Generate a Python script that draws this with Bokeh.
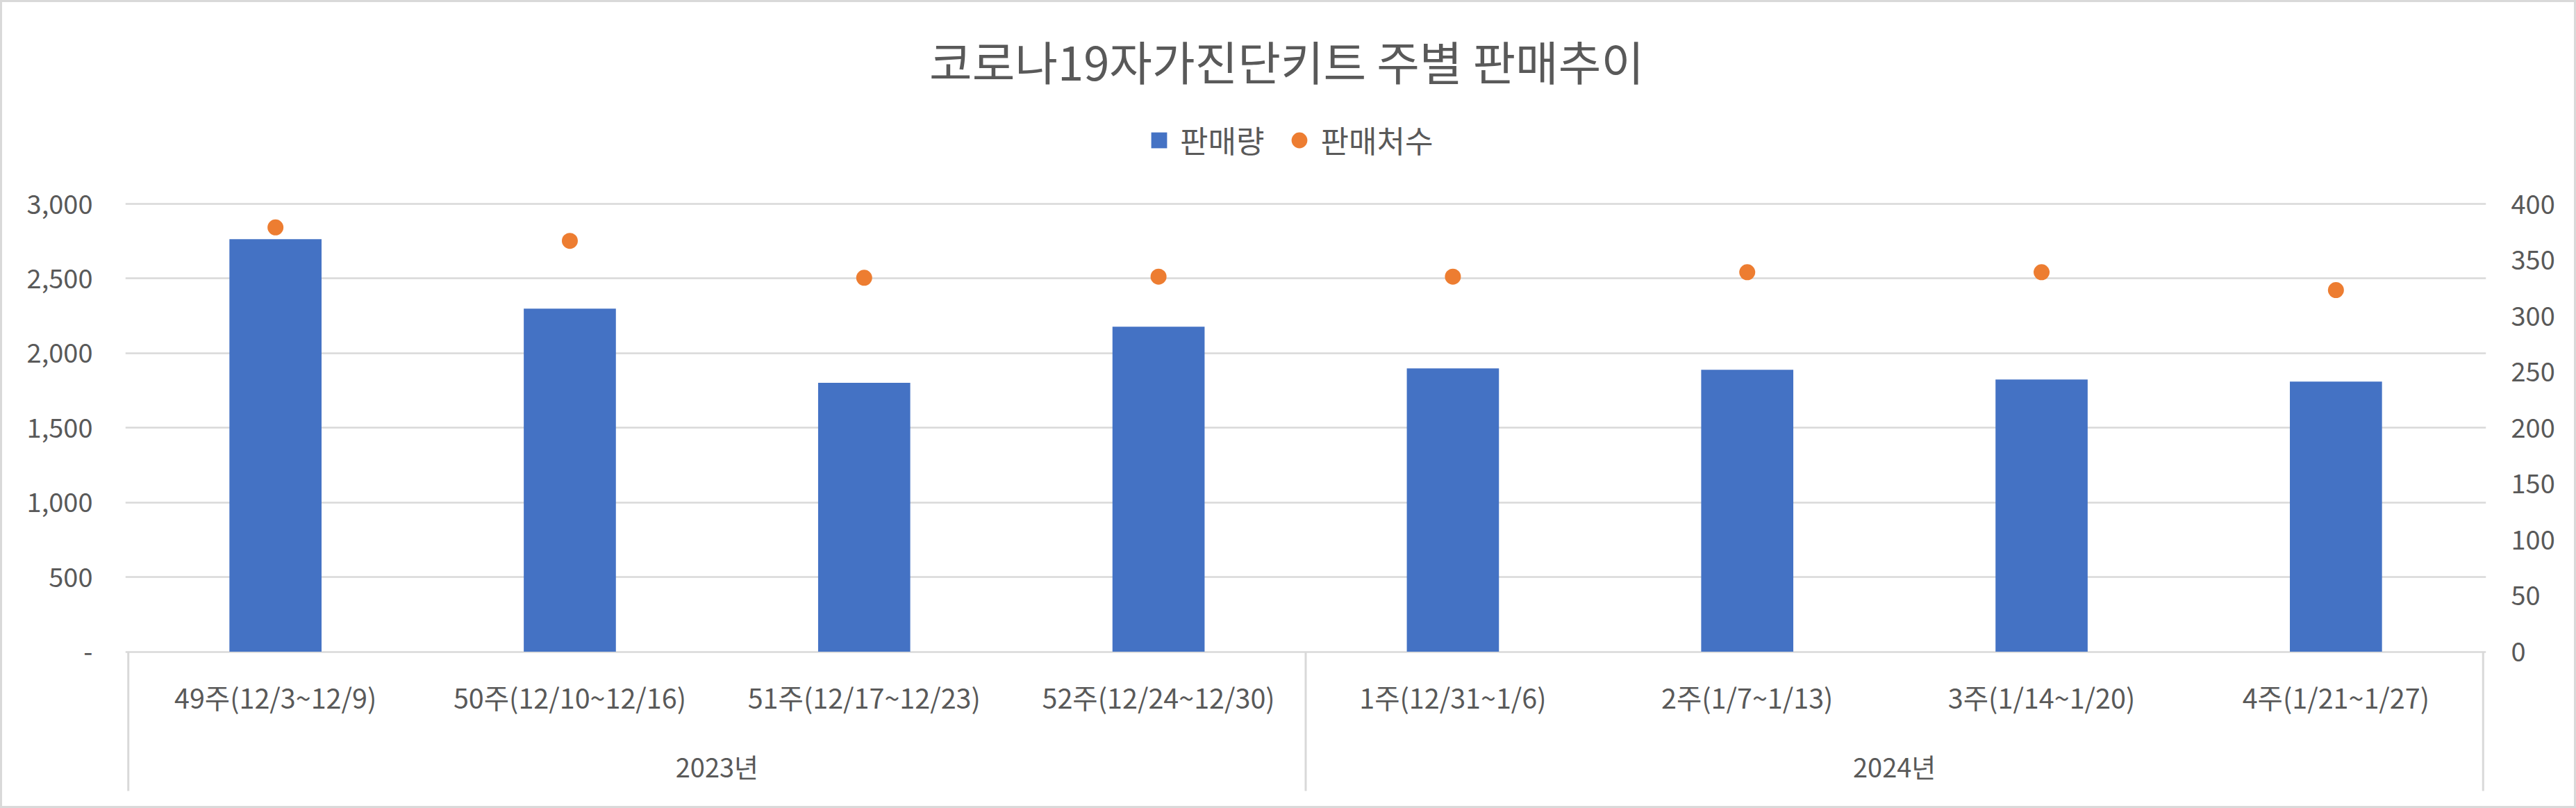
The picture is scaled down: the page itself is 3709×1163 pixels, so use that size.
from bokeh.plotting import figure
from bokeh.models import (FactorRange, Range1d, LinearAxis, FixedTicker, NumeralTickFormatter,
                          Legend, LegendItem, Label, ColumnDataSource, Grid)
from bokeh.core.properties import value
from bokeh.embed import file_html
from bokeh.resources import INLINE

# ---------------- data ----------------
title_text = "코로나19자가진단키트 주별 판매추이"
years = ["2023년", "2023년", "2023년", "2023년", "2024년", "2024년", "2024년", "2024년"]
weeks = ["49주(12/3~12/9)", "50주(12/10~12/16)", "51주(12/17~12/23)", "52주(12/24~12/30)",
         "1주(12/31~1/6)", "2주(1/7~1/13)", "3주(1/14~1/20)", "4주(1/21~1/27)"]
year_groups = ["2023년", "2024년"]
sales = [2764, 2298, 1801, 2177, 1898, 1889, 1824, 1810]      # 판매량 (left axis)
stores = [379, 367, 334, 335, 335, 339, 339, 323]             # 판매처수 (right axis)
series_names = ["판매량", "판매처수"]
left_ticks = [0, 500, 1000, 1500, 2000, 2500, 3000]
right_ticks = [0, 50, 100, 150, 200, 250, 300, 350, 400]

# ---------------- layout constants ----------------
W, H = 3709, 1163
FL, FR = 180, 3579          # frame left/right (px)
Y_TOP_PX, Y0_PX = 293.0, 937.5
LMAX, RMAX = 3000.0, 400.0
K = LMAX / (Y0_PX - Y_TOP_PX)
PAD = 0.01
NCAT = len(weeks)


def ydata(px):
    return (Y0_PX - px) * K


def xdata(px):
    unit = (FR - FL) / (NCAT + PAD)
    return (px - FL) / unit - PAD / 2


FONTN = "Noto Sans CJK KR"
FONT = value(FONTN)
TXT = "#595959"
GRID = "#d9d9d9"
BLUE = "#4472C4"
ORANGE = "#ED7D31"

factors = list(zip(years, weeks))
src = ColumnDataSource(dict(x=factors, sales=sales, stores=stores, week=weeks))

p = figure(width=W, height=H,
           x_range=FactorRange(*factors, factor_padding=0, group_padding=0, subgroup_padding=0,
                               range_padding=PAD, range_padding_units="absolute"),
           y_range=Range1d(ydata(H), ydata(0)),
           x_axis_location=None, y_axis_location=None,
           output_backend="svg", toolbar_location=None,
           min_border_left=FL, min_border_right=W - FR, min_border_top=0, min_border_bottom=0)
p.extra_y_ranges = {"right": Range1d(ydata(H) * RMAX / LMAX, ydata(0) * RMAX / LMAX)}
p.outline_line_color = None
p.background_fill_color = None
p.border_fill_color = None
p.styles = {"box-shadow": "inset 0 0 0 3px #d9d9d9", "background-color": "white"}
for g in p.xgrid + p.ygrid:
    g.visible = False

grid = Grid(dimension=1, ticker=FixedTicker(ticks=left_ticks), grid_line_color=GRID, grid_line_width=2.5)
p.add_layout(grid, "center")

la = LinearAxis(ticker=FixedTicker(ticks=left_ticks), formatter=NumeralTickFormatter(format="0,0"),
                major_label_overrides={0: "-"})
ra = LinearAxis(y_range_name="right", ticker=FixedTicker(ticks=right_ticks))
for ax, so in ((la, 47), (ra, 36)):
    ax.axis_line_color = None
    ax.major_tick_line_color = None
    ax.minor_tick_line_color = None
    ax.major_tick_in = 0
    ax.major_tick_out = 0
    ax.major_label_standoff = so
    ax.major_label_text_font = FONTN
    ax.major_label_text_font_size = "38px"
    ax.major_label_text_color = TXT
p.add_layout(la, "left")
p.add_layout(ra, "right")

# bars and dots
bars = p.vbar(x="x", top="sales", bottom=0, width=0.313, source=src, fill_color=BLUE, line_color=None)
dots = p.scatter(x="x", y="stores", source=src, y_range_name="right", marker="circle", size=23,
                 fill_color=ORANGE, line_color=None)
# legend swatch for the bars (zero-size markers, visible only in the legend)
proxy = p.scatter(x="x", y="sales", source=src, marker="square", size=0, fill_color=BLUE, line_color=None)

# category axis box
p.segment(x0=[0, NCAT / 2, NCAT], y0=0, x1=[0, NCAT / 2, NCAT], y1=ydata(1138),
          line_color=GRID, line_width=3)
p.text(x="x", y=ydata(1002), text="week", source=src, text_align="center", text_baseline="middle",
       text_font=FONT, text_font_size="39.5px", text_color=TXT)
p.text(x=year_groups, y=ydata(1102), text=year_groups, text_align="center", text_baseline="middle",
       text_font=FONT, text_font_size="38px", text_color=TXT)

# title
p.add_layout(Label(x=xdata(1852), y=ydata(86), text=title_text, text_align="center",
                   text_baseline="middle", text_font=FONTN, text_font_size="67px", text_color=TXT))

# legend
legend = Legend(items=[LegendItem(label=series_names[0], renderers=[proxy]),
                       LegendItem(label=series_names[1], renderers=[dots])],
                orientation="horizontal", location=(1640 - FL, H - 233),
                glyph_width=57, glyph_height=57, label_standoff=2, spacing=22,
                padding=0, margin=0, border_line_color=None, background_fill_alpha=0,
                label_text_font=FONTN, label_text_font_size="44px", label_text_color=TXT)
p.add_layout(legend, "center")

open("out.html", "w").write(file_html(p, INLINE))
